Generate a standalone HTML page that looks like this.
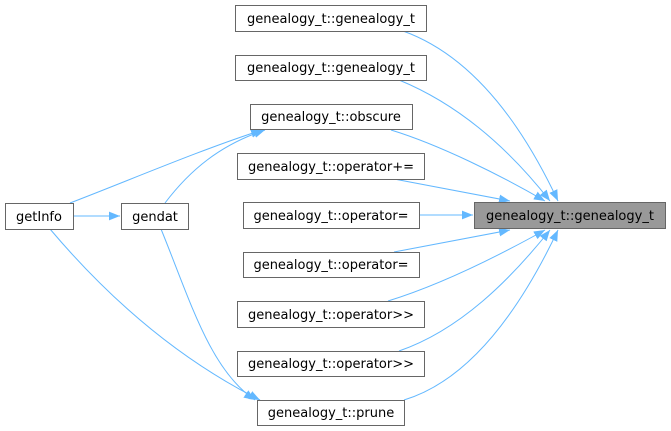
<!DOCTYPE html>
<html><head><style>body{margin:0;background:#fff}svg{display:block}</style></head><body>
<svg width="671" height="431" viewBox="0 0 671 431" xmlns="http://www.w3.org/2000/svg" font-family="DejaVu Sans, Liberation Sans, sans-serif" font-size="13">
<defs><marker id="a" viewBox="0 0 10 8" refX="10" refY="4" markerUnits="userSpaceOnUse" markerWidth="11" markerHeight="9" orient="auto"><path d="M0,0L10,4L0,8z" fill="#63b8ff"/></marker></defs>
<g fill="none" stroke="#63b8ff" stroke-width="1" marker-end="url(#a)">
<path d="M403,31C470,55 520,120 558,201"/>
<path d="M399,80C460,105 510,150 550,201"/>
<path d="M391,130C440,145 500,175 545,201"/>
<path d="M394,179L510,201"/>
<path d="M419,215L473,215"/>
<path d="M394,252L510,230"/>
<path d="M388,301C440,285 500,255 545,230"/>
<path d="M399,351C460,330 510,280 550,230"/>
<path d="M404,400C470,380 520,310 558,230"/>
<path d="M73,216L120,216"/>
<path d="M70,203C130,180 200,150 262,130"/>
<path d="M165,203C190,170 220,145 265,130"/>
<path d="M50,229C110,300 180,360 260,400"/>
<path d="M161,229C190,300 210,370 255,400"/>
</g>
<g stroke="#666" stroke-width="1" fill="#fff">
<rect x="235.5" y="5.5" width="191" height="26"/>
<rect x="235.5" y="55.5" width="191" height="25"/>
<rect x="250.5" y="104.5" width="162" height="25"/>
<rect x="237.5" y="153.5" width="187" height="26"/>
<rect x="243.5" y="202.5" width="176" height="26"/>
<rect x="474.5" y="202.5" width="191" height="26" fill="#999"/>
<rect x="243.5" y="252.5" width="176" height="25"/>
<rect x="237.5" y="301.5" width="187" height="26"/>
<rect x="237.5" y="351.5" width="187" height="25"/>
<rect x="257.5" y="400.5" width="147" height="25"/>
<rect x="5.5" y="203.5" width="68" height="26"/>
<rect x="121.5" y="203.5" width="67" height="26"/>
</g>
<g fill="#000" text-anchor="middle">
<text x="331" y="23">genealogy_t::genealogy_t</text>
<text x="331" y="72">genealogy_t::genealogy_t</text>
<text x="331" y="121">genealogy_t::obscure</text>
<text x="331" y="171">genealogy_t::operator+=</text>
<text x="331" y="220">genealogy_t::operator=</text>
<text x="570" y="220">genealogy_t::genealogy_t</text>
<text x="331" y="269">genealogy_t::operator=</text>
<text x="331" y="319">genealogy_t::operator&gt;&gt;</text>
<text x="331" y="368">genealogy_t::operator&gt;&gt;</text>
<text x="331" y="417">genealogy_t::prune</text>
<text x="39" y="221">getInfo</text>
<text x="155" y="221">gendat</text>
</g>
</svg>
</body></html>
